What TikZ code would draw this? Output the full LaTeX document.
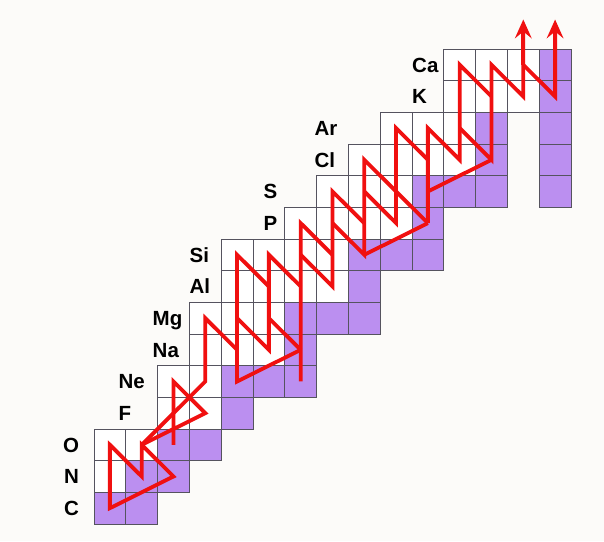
\documentclass[tikz,border=0pt]{standalone}
\usepackage{fontspec}
\setmainfont{Liberation Sans}
\usetikzlibrary{arrows.meta}
\definecolor{bg}{RGB}{252,251,249}
\definecolor{stable}{RGB}{187,143,240}
\definecolor{flow}{RGB}{240,16,16}
\definecolor{cellline}{RGB}{85,83,95}
\begin{document}
\begin{tikzpicture}[x=31.8pt,y=31.67pt,
  cellbox/.style={draw=cellline,line width=0.9pt},
  flowline/.style={draw=flow,line width=3.8pt,line join=miter,miter limit=3,line cap=butt},
  elem/.style={font=\bfseries\fontsize{20.5}{20.5}\selectfont,anchor=base west,inner sep=0pt,yshift=-7.3pt}]

% canvas
\fill[bg] (-2.956,-0.537) rectangle (16.038,16.546);
\useasboundingbox (-2.956,-0.537) rectangle (16.038,16.546);

% nuclide cells: Z / first N column / last N column
\foreach \z/\a/\b in {6/0/1,7/0/2,8/0/3,9/2/4,10/2/6,11/3/6,12/3/8,13/4/8,14/4/10,15/6/10,16/7/12,17/8/12,18/9/12,19/11/14,20/11/14}
  \foreach \c in {\a,...,\b} \fill[white] (\c,\z-6) rectangle ++(1,1);
\foreach \z in {16,17,18} \fill[white] (14,\z-6) rectangle ++(1,1);

% stable nuclei
\foreach \c/\z in {0/6,1/6,1/7,2/7,2/8,3/8,4/9,4/10,5/10,6/10,6/11,6/12,7/12,8/12,8/13,8/14,9/14,10/14,10/15,10/16,11/16,12/16,14/16,12/17,14/17,12/18,14/18,14/19,14/20}
  \fill[stable] (\c,\z-6) rectangle ++(1,1);

% cell borders
\foreach \z/\a/\b in {6/0/1,7/0/2,8/0/3,9/2/4,10/2/6,11/3/6,12/3/8,13/4/8,14/4/10,15/6/10,16/7/12,17/8/12,18/9/12,19/11/14,20/11/14}
  \foreach \c in {\a,...,\b} \draw[cellbox] (\c,\z-6) rectangle ++(1,1);
\foreach \z in {16,17,18} \draw[cellbox] (14,\z-6) rectangle ++(1,1);

% element labels
\node[elem] (lC)  at (-0.943,0.5) {C};
\node[elem] (lN)  at (-0.943,1.5) {N};
\node[elem] (lO)  at (-0.975,2.5) {O};
\node[elem] (lF)  at (0.77,3.5) {F};
\node[elem] (lNe) at (0.77,4.5) {Ne};
\node[elem] (lNa) at (1.84,5.5) {Na};
\node[elem] (lMg) at (1.84,6.5) {Mg};
\node[elem] (lAl) at (3.0,7.5) {Al};
\node[elem] (lSi) at (3.0,8.5) {Si};
\node[elem] (lP)  at (5.33,9.5) {P};
\node[elem] (lS)  at (5.33,10.5) {S};
\node[elem] (lCl) at (6.93,11.5) {Cl};
\node[elem] (lAr) at (6.93,12.5) {Ar};
\node[elem] (lK)  at (10.0,13.5) {K};
\node[elem] (lCa) at (10.0,14.5) {Ca};

% cell centres, named p<N column>-<Z>
\foreach \c in {0,...,14}
  \foreach \z in {6,...,20}
    \coordinate (p\c-\z) at (\c+0.5,\z-5.5);
\coordinate (top13) at (13.5,15.93);
\coordinate (top14) at (14.5,15.93);

% reaction flow
\draw[flowline] (p0-6) -- (p0-8) -- (p1-7) -- (p1-8) -- (p2-7) -- cycle;
\draw[flowline] (p1-8) -- (p3-10) -- (p3-12) -- (p4-11);
\draw[flowline] (p2-8) -- (p2-10) -- (p3-9) -- (p1-8);
\draw[flowline] (p6-11) -- (p4-10) -- (p4-14) -- (p5-13);
\draw[flowline] (p4-12) -- (p5-11) -- (p5-14) -- (p6-13);
\draw[flowline] (p5-12) -- (p6-11);
\draw[flowline] (p6-10) -- (p6-15) -- (p7-14);
\draw[flowline] (p6-14) -- (p7-13) -- (p7-16) -- (p8-15);
\draw[flowline] (p7-15) -- (p8-14) -- (p8-17) -- (p9-16) -- (p10-15);
\draw[flowline] (p8-14) -- (p10-15);
\draw[flowline] (p8-16) -- (p9-15) -- (p9-18) -- (p10-17);
\draw[flowline] (p10-15) -- (p10-18) -- (p11-17) -- (p11-20) -- (p12-19);
\draw[flowline] (p10-16) -- (p12-17);
\draw[flowline] (p11-18) -- (p12-17) -- (p12-20) -- (p13-19) -- ([yshift=-10pt]top13);
\draw[flowline] (p13-20) -- (p14-19) -- ([yshift=-10pt]top14);
% arrowheads at the upper ends
\draw[flowline,-{Stealth[length=19pt,width=17pt,inset=7pt,line width=0pt]}] (p13-20) -- (top13);
\draw[flowline,-{Stealth[length=19pt,width=17pt,inset=7pt,line width=0pt]}] (p14-20) -- (top14);
\end{tikzpicture}
\end{document}
